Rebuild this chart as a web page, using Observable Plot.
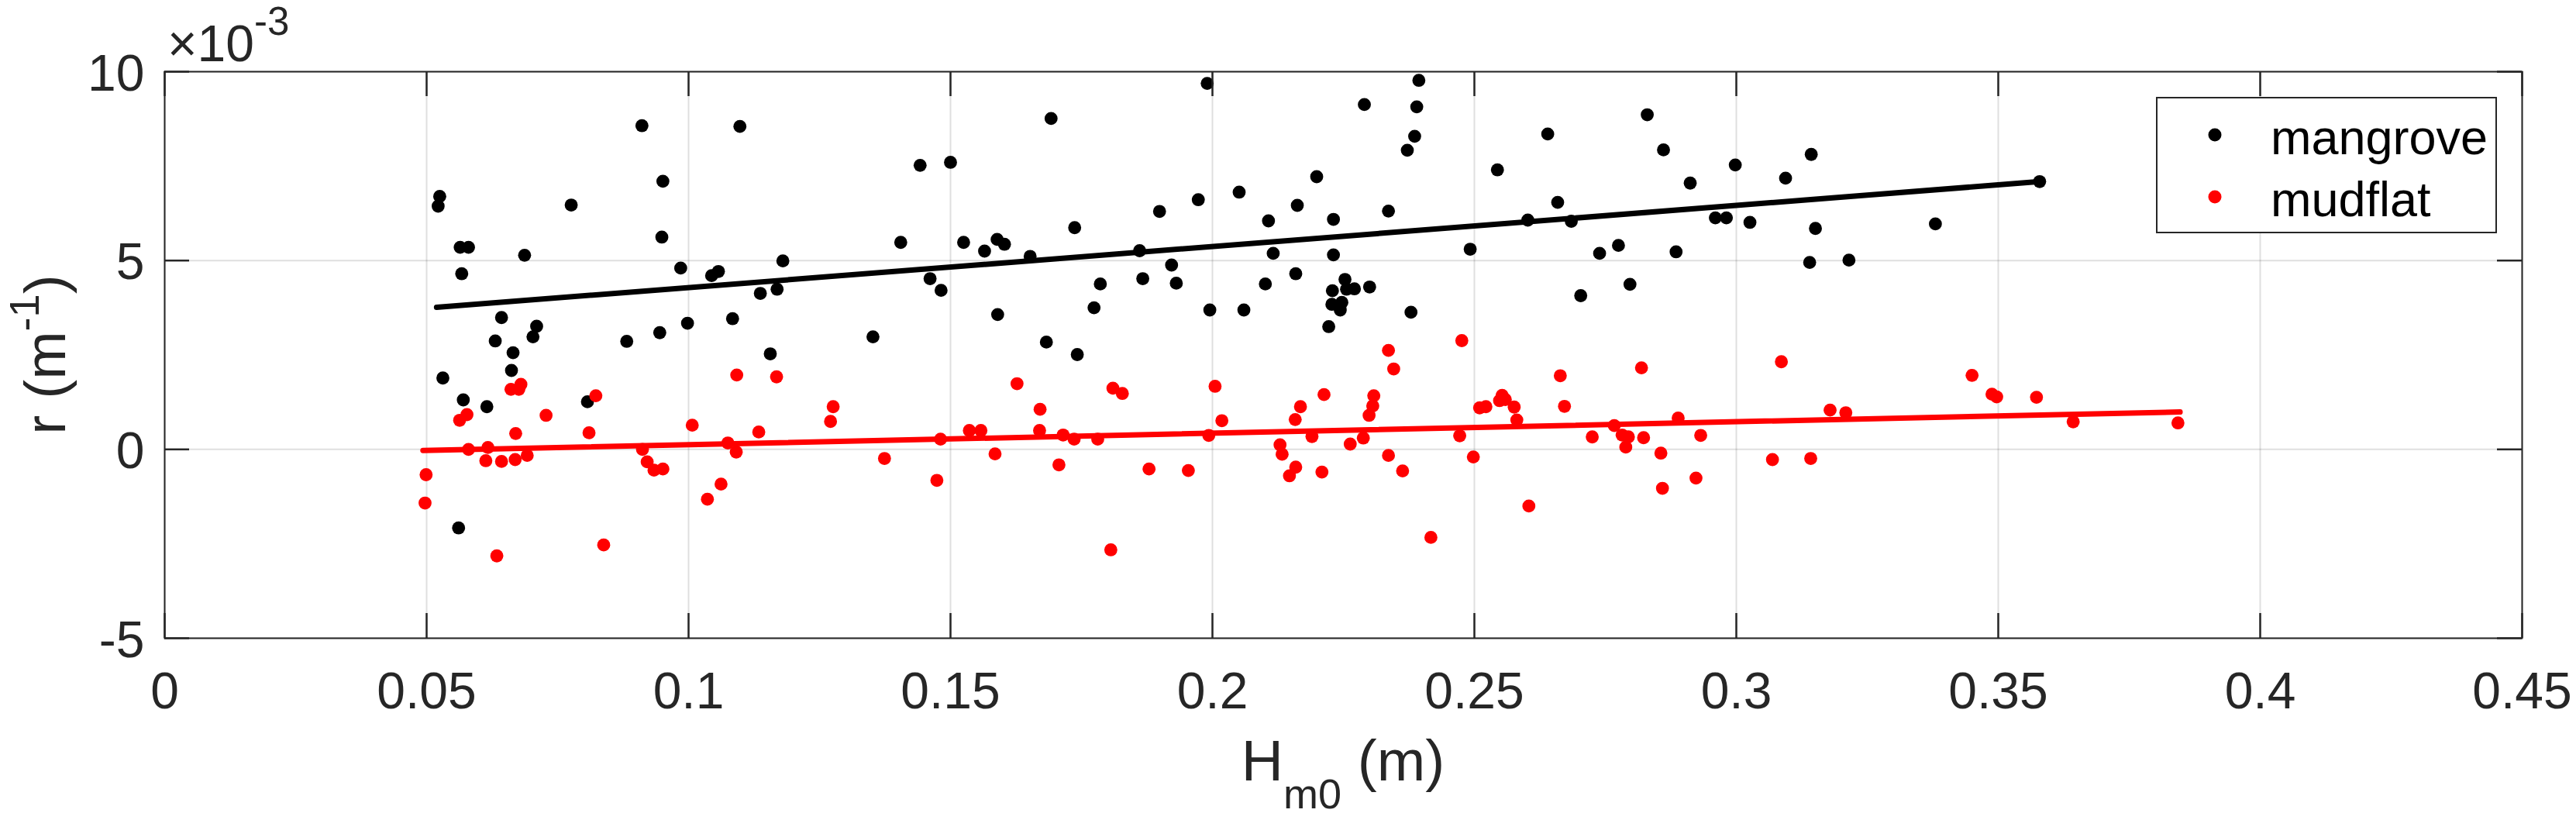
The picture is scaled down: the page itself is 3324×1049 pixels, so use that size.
<!DOCTYPE html>
<html><head><meta charset="utf-8">
<script src="https://cdn.jsdelivr.net/npm/d3@7"></script>
<script src="https://cdn.jsdelivr.net/npm/@observablehq/plot@0.6"></script>
<style>html,body{margin:0;padding:0;background:#fff;overflow:hidden}</style>
</head><body><div id="chart"></div>
<script>
// r values are in units of 1e-3 m^-1 (axis shows ×10^-3)
const mangroveX = [0.0525,0.0522,0.0564,0.0580,0.0567,0.0687,0.0776,0.0911,0.0951,0.0949,0.0985,0.0998,0.0945,0.0882,0.0643,0.0710,0.0703,0.0631,0.0665,0.0662,0.0531,0.0570,0.0615,0.0807,0.0561,
  0.1098,0.1044,0.1057,0.1180,0.1137,0.1169,0.1084,0.1156,0.1352,0.1405,0.1442,0.1500,0.1461,0.1482,
  0.1525,0.1692,0.1990,0.1565,0.1589,0.1603,0.1652,0.1737,0.1899,0.1973,0.1861,0.1922,0.1867,0.1931,0.1786,0.1774,0.1995,0.1590,0.1683,0.1742,
  0.2394,0.2290,0.2390,0.2386,0.2372,0.2199,0.2051,0.2162,0.2107,0.2231,0.2336,0.2116,0.2231,0.2492,0.2159,0.2101,0.2253,0.2256,0.2271,0.2300,0.2229,0.2228,0.2247,0.2244,0.2222,0.2060,0.2379,
  0.2544,0.2640,0.2659,0.2602,0.2685,0.2739,0.2775,0.2703,0.2797,0.2830,0.2861,0.2912,0.2885,0.2960,0.2981,0.2998,
  0.3026,0.3094,0.3143,0.3151,0.3140,0.3215,0.3380,0.3579];
const mangroveY = [6.70,6.44,5.35,5.35,4.65,5.14,6.47,8.57,7.10,5.62,4.80,3.34,3.09,2.86,3.49,3.26,2.98,2.87,2.56,2.09,1.89,1.31,1.13,1.26,-2.08,
  8.55,4.60,4.71,4.99,4.13,4.24,3.46,2.53,2.98,5.48,7.52,7.60,4.52,4.21,
  5.48,8.76,9.69,5.25,5.56,5.43,5.11,5.87,6.30,6.61,5.26,4.88,4.52,4.40,4.38,3.75,3.69,3.57,2.84,2.51,
  9.77,9.13,9.07,8.29,7.92,7.22,6.81,6.46,6.05,6.09,6.31,5.19,5.15,5.30,4.65,4.38,4.50,4.24,4.25,4.30,4.20,3.84,3.89,3.69,3.25,3.69,3.63,
  7.40,8.35,6.54,6.07,6.04,5.19,5.40,4.07,4.37,8.86,7.93,7.05,5.23,6.13,6.13,7.53,
  6.01,7.18,7.81,5.85,4.95,5.01,5.97,7.09];

const mudflatX = [0.0661,0.0676,0.0680,0.0823,0.0563,0.0577,0.0728,0.0670,0.0810,0.1007,0.0580,0.0617,0.0613,0.0643,0.0669,0.0692,0.0912,0.0921,0.0934,0.0951,0.0499,0.0497,0.0634,0.0838,
  0.1092,0.1168,0.1276,0.1271,0.1134,0.1075,0.1091,0.1062,0.1036,0.1374,0.1481,0.1474,
  0.1627,0.1671,0.1810,0.1828,0.2005,0.1536,0.1558,0.1670,0.1715,0.1736,0.1781,0.1993,0.1585,0.1707,0.1879,0.1954,0.1806,
  0.2018,0.2336,0.2346,0.2476,0.2213,0.2168,0.2308,0.2306,0.2299,0.2158,0.2190,0.2288,0.2263,0.2472,0.2129,0.2133,0.2159,0.2147,0.2209,0.2336,0.2363,0.2498,0.2417,
  0.2510,0.2522,0.2548,0.2553,0.2559,0.2576,0.2581,0.2664,0.2672,0.2604,0.2725,0.2767,0.2782,0.2794,0.2789,0.2823,0.2819,0.2856,0.2859,0.2889,0.2923,0.2932,
  0.3086,0.3179,0.3209,0.3069,0.3142,0.3450,0.3488,0.3497,0.3573,0.3643,0.3843];
const mudflatY = [1.59,1.59,1.72,1.42,0.77,0.92,0.90,0.42,0.44,0.64,0.00,0.05,-0.30,-0.32,-0.27,-0.16,0.00,-0.33,-0.55,-0.52,-0.67,-1.42,-2.82,-2.53,
  1.97,1.92,1.13,0.74,0.46,0.17,-0.07,-0.92,-1.32,-0.24,0.27,-0.82,
  1.74,1.06,1.62,1.48,1.67,0.50,0.50,0.50,0.38,0.27,0.27,0.37,-0.12,-0.41,-0.52,-0.56,-2.66,
  0.76,2.62,2.13,2.88,1.45,1.13,1.42,1.15,0.90,0.79,0.34,0.30,0.14,0.36,0.12,-0.13,-0.47,-0.70,-0.60,-0.16,-0.57,-0.20,-2.33,
  1.10,1.13,1.29,1.43,1.32,1.12,0.78,1.95,1.14,-1.50,0.33,0.63,0.38,0.33,0.06,0.31,2.16,-0.10,-1.03,0.83,-0.76,0.37,
  2.32,1.04,0.97,-0.27,-0.24,1.96,1.46,1.39,1.38,0.73,0.70];

// fitted lines (end points)
const fitMangroveX = [0.0519, 0.3579];
const fitMangroveY = [3.76, 7.09];
const fitMudflatX = [0.0493, 0.3847];
const fitMudflatY = [-0.03, 0.99];

const xTicks = [0,0.05,0.1,0.15,0.2,0.25,0.3,0.35,0.4,0.45];
const xTickLabels = ["0","0.05","0.1","0.15","0.2","0.25","0.3","0.35","0.4","0.45"];
const yTicks = [-5,0,5,10];
const yTickLabels = ["-5","0","5","10"];
const seriesNames = ["mangrove","mudflat"];
const seriesColors = ["#000000","#ff0000"];

const W = 3324, H = 1049;
const mL = 212, mR = 70, mT = 92, mB = 226;
const innerW = W - mL - mR, innerH = H - mT - mB;
const FONT = '"Liberation Sans", Arial, Helvetica, sans-serif';
const AX = "#262626";
const tickLen = 32;

const mangrove = mangroveX.map((x,i)=>({x, y: mangroveY[i]}));
const mudflat = mudflatX.map((x,i)=>({x, y: mudflatY[i]}));
const fitM = fitMangroveX.map((x,i)=>({x, y: fitMangroveY[i]}));
const fitR = fitMudflatX.map((x,i)=>({x, y: fitMudflatY[i]}));

const plot = Plot.plot({
  width: W, height: H,
  marginLeft: mL, marginRight: mR, marginTop: mT, marginBottom: mB,
  style: {fontFamily: FONT, background: "#fff", overflow: "visible"},
  x: {domain: [0, 0.45], axis: null},
  y: {domain: [-5, 10], axis: null},
  marks: [
    Plot.ruleX(xTicks, {x: d=>d, stroke: AX, strokeOpacity: 0.15, strokeWidth: 2}),
    Plot.ruleY(yTicks, {y: d=>d, stroke: AX, strokeOpacity: 0.15, strokeWidth: 2}),
    Plot.dot(mangrove, {x: "x", y: "y", r: 8.4, fill: seriesColors[0], stroke: "none"}),
    Plot.dot(mudflat, {x: "x", y: "y", r: 8.4, fill: seriesColors[1], stroke: "none"}),
    Plot.line(fitM, {x: "x", y: "y", stroke: seriesColors[0], strokeWidth: 7, strokeLinecap: "round"}),
    Plot.line(fitR, {x: "x", y: "y", stroke: seriesColors[1], strokeWidth: 7, strokeLinecap: "round"}),
    // inward ticks on all four sides
    Plot.ruleX(xTicks, {x: d=>d, stroke: AX, strokeWidth: 2.5, insetTop: innerH - tickLen}),
    Plot.ruleX(xTicks, {x: d=>d, stroke: AX, strokeWidth: 2.5, insetBottom: innerH - tickLen}),
    Plot.ruleY(yTicks, {y: d=>d, stroke: AX, strokeWidth: 2.5, insetRight: innerW - tickLen}),
    Plot.ruleY(yTicks, {y: d=>d, stroke: AX, strokeWidth: 2.5, insetLeft: innerW - tickLen}),
    Plot.frame({stroke: AX, strokeWidth: 2}),
    Plot.text(xTicks, {x: d=>d, text: (d,i)=>xTickLabels[i], frameAnchor: "bottom", lineAnchor: "top", dy: 44, fontSize: 66, fill: AX}),
    Plot.text(yTicks, {y: d=>d, text: (d,i)=>yTickLabels[i], frameAnchor: "left", textAnchor: "end", lineAnchor: "middle", dx: -26, dy: 3, fontSize: 66, fill: AX})
  ]
});
document.getElementById("chart").appendChild(plot);

const svg = d3.select(plot);
// x label  H_m0 (m)
const xl = svg.append("text").attr("x", mL + innerW/2).attr("y", 1007)
  .attr("text-anchor", "middle").attr("font-size", 75).attr("fill", AX).attr("font-family", FONT);
xl.append("tspan").text("H");
xl.append("tspan").attr("font-size", 54).attr("dy", 36).text("m0");
xl.append("tspan").attr("dy", -36).text(" (m)");
// y label  r (m^-1)
const yl = svg.append("text").attr("transform", `translate(84,${mT + innerH/2}) rotate(-90)`)
  .attr("text-anchor", "middle").attr("font-size", 75).attr("fill", AX).attr("font-family", FONT);
yl.append("tspan").text("r (m");
yl.append("tspan").attr("font-size", 54).attr("dy", -34).text("-1");
yl.append("tspan").attr("dy", 34).text(")");
// exponent label ×10^-3
const ex = svg.append("text").attr("x", 216).attr("y", 79).attr("text-anchor", "start")
  .attr("font-size", 66).attr("fill", AX).attr("font-family", FONT);
ex.append("tspan").text("\u00d710");
ex.append("tspan").attr("font-size", 51).attr("dy", -34).text("-3");
// legend
const lg = svg.append("g");
lg.append("rect").attr("x", 2783).attr("y", 126).attr("width", 438).attr("height", 174)
  .attr("fill", "#fff").attr("stroke", AX).attr("stroke-width", 2);
seriesNames.forEach((name, i) => {
  const cy = 174 + i*80;
  lg.append("circle").attr("cx", 2858).attr("cy", cy).attr("r", 8.5).attr("fill", seriesColors[i]);
  lg.append("text").attr("x", 2930).attr("y", cy + 25).attr("text-anchor", "start").attr("font-size", 63)
    .attr("fill", "#000").attr("font-family", FONT).text(name);
});
</script>
</body></html>
